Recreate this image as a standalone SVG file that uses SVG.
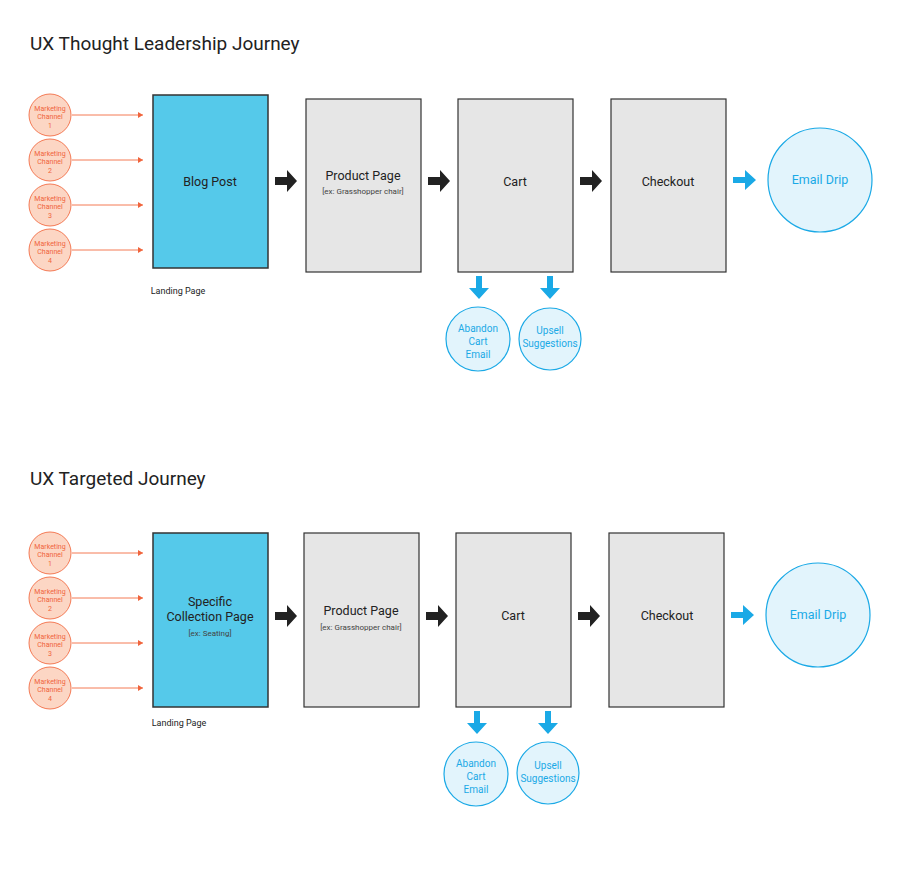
<svg xmlns="http://www.w3.org/2000/svg" width="900" height="881" viewBox="0 0 900 881">
<style>
text{font-family:Roboto,"Liberation Sans",sans-serif;text-anchor:middle}
.title{font-size:19px;fill:#222;text-anchor:start}
.mc{fill:#fcd6c4;stroke:#f47a55;stroke-width:1}
.mct{font-size:7px;fill:#f0643c}
.land{fill:#55c9ea;stroke:#333;stroke-width:1.5}
.page{fill:#e6e6e6;stroke:#333;stroke-width:1.2}
.pt{font-size:12.5px;fill:#222}
.st{font-size:8px;fill:#444}
.lbl{font-size:9px;fill:#222}
.bc{fill:#e2f4fc;stroke:#1aa9e6;stroke-width:1.2}
.bt{font-size:10px;fill:#1aa9e6}
.bt2{font-size:12.5px;fill:#1aa9e6}
.ol{stroke:#f47a55;stroke-width:1;fill:none}
.ka{fill:#222}.ba{fill:#1aa9e6}
</style>
<defs>
<marker id="oh" markerWidth="6" markerHeight="6" refX="5" refY="3" orient="auto" markerUnits="userSpaceOnUse"><path d="M0,0L5,3L0,6z" fill="#f0643c"/></marker>
<path id="karr" d="M0,-4H12V-11L22,0L12,11V4H0z"/>
<path id="barr" d="M0,-3H12V-10L23,0L12,10V3H0z"/>
<path id="darr" d="M-3,0H3V12H10L0,23L-10,12H-3z"/>
</defs>
<text class="title" x="30" y="50">UX Thought Leadership Journey</text>
<text class="title" x="30" y="485">UX Targeted Journey</text>
<g id="connectors">
<line class="ol" x1="72" y1="115" x2="143" y2="115" marker-end="url(#oh)"/>
<line class="ol" x1="72" y1="160" x2="143" y2="160" marker-end="url(#oh)"/>
<line class="ol" x1="72" y1="205" x2="143" y2="205" marker-end="url(#oh)"/>
<line class="ol" x1="72" y1="250" x2="143" y2="250" marker-end="url(#oh)"/>
<use href="#karr" class="ka" x="275" y="181"/><use href="#karr" class="ka" x="428" y="181"/><use href="#karr" class="ka" x="580" y="181"/>
<use href="#barr" class="ba" x="733" y="180"/>
<use href="#darr" class="ba" x="479" y="276"/><use href="#darr" class="ba" x="550" y="276"/>
<line class="ol" x1="72" y1="553" x2="143" y2="553" marker-end="url(#oh)"/>
<line class="ol" x1="72" y1="598" x2="143" y2="598" marker-end="url(#oh)"/>
<line class="ol" x1="72" y1="643" x2="143" y2="643" marker-end="url(#oh)"/>
<line class="ol" x1="72" y1="688" x2="143" y2="688" marker-end="url(#oh)"/>
<use href="#karr" class="ka" x="275" y="616"/><use href="#karr" class="ka" x="426" y="616"/><use href="#karr" class="ka" x="578" y="616"/>
<use href="#barr" class="ba" x="731" y="615"/>
<use href="#darr" class="ba" x="477" y="711"/><use href="#darr" class="ba" x="548" y="711"/>
</g>
<g id="mc1a"><circle class="mc" cx="50" cy="115" r="21"/><text class="mct" x="50" y="111">Marketing</text><text class="mct" x="50" y="119">Channel</text><text class="mct" x="50" y="128">1</text></g>
<g id="mc2a"><circle class="mc" cx="50" cy="160" r="21"/><text class="mct" x="50" y="156">Marketing</text><text class="mct" x="50" y="164">Channel</text><text class="mct" x="50" y="173">2</text></g>
<g id="mc3a"><circle class="mc" cx="50" cy="205" r="21"/><text class="mct" x="50" y="201">Marketing</text><text class="mct" x="50" y="209">Channel</text><text class="mct" x="50" y="218">3</text></g>
<g id="mc4a"><circle class="mc" cx="50" cy="250" r="21"/><text class="mct" x="50" y="246">Marketing</text><text class="mct" x="50" y="254">Channel</text><text class="mct" x="50" y="263">4</text></g>
<g id="blog"><rect class="land" x="153" y="95" width="115" height="173"/><text class="pt" x="210" y="186">Blog Post</text><text class="lbl" x="178" y="294">Landing Page</text></g>
<g id="prod1"><rect class="page" x="306" y="99" width="115" height="173"/><text class="pt" x="363" y="180">Product Page</text><text class="st" x="363" y="194">[ex: Grasshopper chair]</text></g>
<g id="cart1"><rect class="page" x="458" y="99" width="115" height="173"/><text class="pt" x="515" y="186">Cart</text></g>
<g id="check1"><rect class="page" x="611" y="99" width="115" height="173"/><text class="pt" x="668" y="186">Checkout</text></g>
<g id="drip1"><circle class="bc" cx="820" cy="180" r="52"/><text class="bt2" x="820" y="184">Email Drip</text></g>
<g id="ab1"><circle class="bc" cx="478" cy="339" r="32"/><text class="bt" x="478" y="332">Abandon</text><text class="bt" x="478" y="345">Cart</text><text class="bt" x="478" y="358">Email</text></g>
<g id="up1"><circle class="bc" cx="550" cy="339" r="31"/><text class="bt" x="550" y="334">Upsell</text><text class="bt" x="550" y="347">Suggestions</text></g>

<g id="mc1b"><circle class="mc" cx="50" cy="553" r="21"/><text class="mct" x="50" y="549">Marketing</text><text class="mct" x="50" y="557">Channel</text><text class="mct" x="50" y="566">1</text></g>
<g id="mc2b"><circle class="mc" cx="50" cy="598" r="21"/><text class="mct" x="50" y="594">Marketing</text><text class="mct" x="50" y="602">Channel</text><text class="mct" x="50" y="611">2</text></g>
<g id="mc3b"><circle class="mc" cx="50" cy="643" r="21"/><text class="mct" x="50" y="639">Marketing</text><text class="mct" x="50" y="647">Channel</text><text class="mct" x="50" y="656">3</text></g>
<g id="mc4b"><circle class="mc" cx="50" cy="688" r="21"/><text class="mct" x="50" y="684">Marketing</text><text class="mct" x="50" y="692">Channel</text><text class="mct" x="50" y="701">4</text></g>
<g id="coll"><rect class="land" x="153" y="533" width="115" height="174"/><text class="pt" x="210" y="606">Specific</text><text class="pt" x="210" y="621">Collection Page</text><text class="st" x="210" y="636">[ex: Seating]</text><text class="lbl" x="179" y="726">Landing Page</text></g>
<g id="prod2"><rect class="page" x="304" y="533" width="115" height="174"/><text class="pt" x="361" y="615">Product Page</text><text class="st" x="361" y="630">[ex: Grasshopper chair]</text></g>
<g id="cart2"><rect class="page" x="456" y="533" width="115" height="174"/><text class="pt" x="513" y="620">Cart</text></g>
<g id="check2"><rect class="page" x="609" y="533" width="115" height="174"/><text class="pt" x="667" y="620">Checkout</text></g>
<g id="drip2"><circle class="bc" cx="818" cy="615" r="52"/><text class="bt2" x="818" y="619">Email Drip</text></g>
<g id="ab2"><circle class="bc" cx="476" cy="774" r="32"/><text class="bt" x="476" y="767">Abandon</text><text class="bt" x="476" y="780">Cart</text><text class="bt" x="476" y="793">Email</text></g>
<g id="up2"><circle class="bc" cx="548" cy="773" r="31"/><text class="bt" x="548" y="769">Upsell</text><text class="bt" x="548" y="782">Suggestions</text></g>
</svg>
